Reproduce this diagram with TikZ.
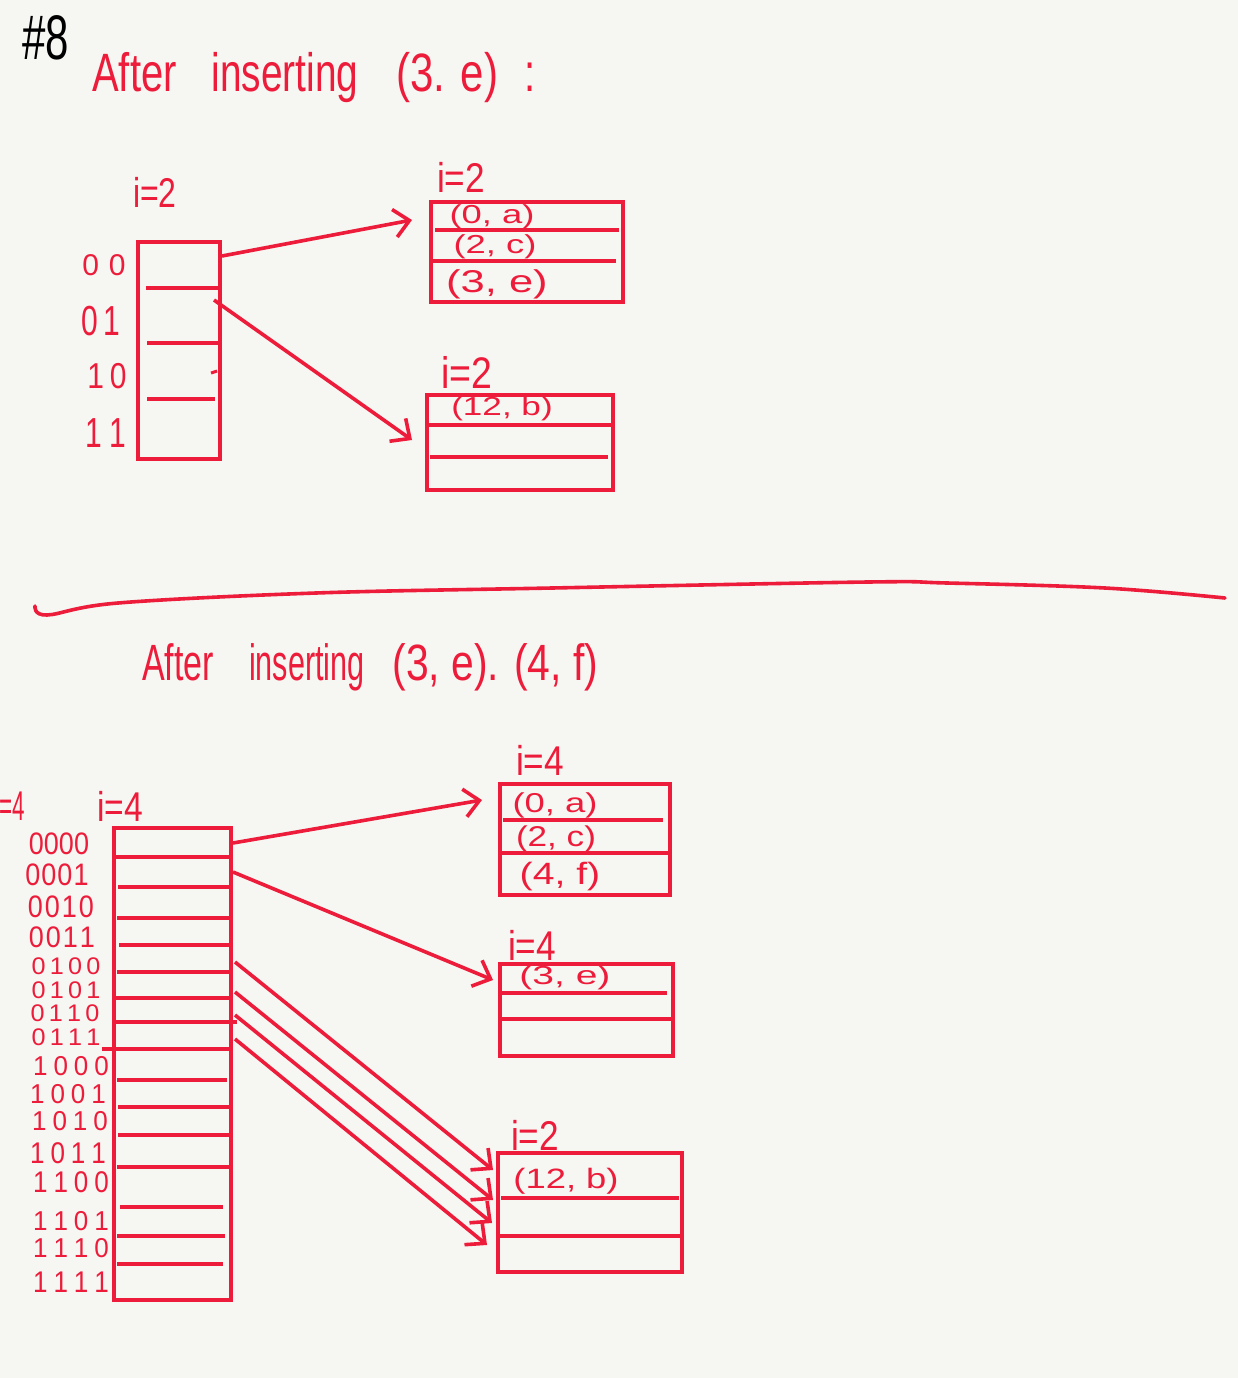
\documentclass[tikz,border=0pt]{standalone}
\usepackage{fontspec}
\usepackage{graphicx}
\setmainfont{Liberation Sans}
\usetikzlibrary{arrows.meta}
\definecolor{ink}{RGB}{236,28,58}
\definecolor{paper}{RGB}{246,246,242}
% size, x-scale, y-scale, text
\newcommand\hw[4]{{\fontsize{#1}{#1}\selectfont\scalebox{#2}[#3]{#4}}}
\newcommand\bitsx[5]{#1\hspace{#5}#2\hspace{#5}#3\hspace{#5}#4}
\tikzset{
  box/.style={draw=ink, line width=4pt, inner sep=0pt, outer sep=0pt},
  div/.style={draw=ink, line width=4pt},
  conn/.style={draw=ink, line width=3.6pt, -{Straight Barb[length=15pt,width=28pt,line width=3.6pt]}},
  lab/.style={text=ink, inner sep=0pt},
}
\begin{document}
\begin{tikzpicture}[x=1pt,y=-1pt]
\useasboundingbox[fill=paper] (0,0) rectangle (1238,1378);

% header
\node[inner sep=0pt, anchor=base west] (num) at (22,60) {\hw{42}{1}{1.5}{\#8}};
\node[lab, anchor=base west] (title1) at (92,92) {\fontsize{40}{40}\selectfont\scalebox{1}[1.35]{After}\hspace{35pt}\scalebox{0.97}[1.35]{inserting}\hspace{38pt}\scalebox{1.05}[1.35]{(3. e)}\hspace{26pt}\scalebox{1}[1.35]{:}};

% ---------- top diagram ----------
\node[lab] (ti) at (155,192) {\hw{32}{1}{1.3}{i=2}};
\node[box, minimum width=82pt, minimum height=217pt] (T1) at (179,350.5) {};
\draw[div] (146,288) -- (219,288);
\draw[div] (147,343) -- (219,343);
\draw[div] (147,399) -- (215,399);
\draw[ink, line width=3pt] (211,373) -- (217,371);
\node[lab] (l00) at (104,265) {\hw{30}{1}{1.0}{0\hspace{10pt}0}};
\node[lab] (l01) at (101,321) {\hw{30}{1}{1.4}{0\hspace{6pt}1}};
\node[lab] (l10) at (107,376) {\hw{30}{1}{1.2}{1\hspace{6pt}0}};
\node[lab] (l11) at (106,433) {\hw{30}{1}{1.4}{1\hspace{8pt}1}};

\node[lab] (bi1) at (461,177) {\hw{32}{1.1}{1.3}{i=2}};
\node[box, minimum width=192pt, minimum height=100pt] (B1) at (527,252) {};
\draw[div] (435,230) -- (619,230);
\draw[div] (431,261) -- (616,261);
\node[lab] (b1a) at (492,217) {\hw{26}{1.4}{1.0}{(0, a)}};
\node[lab] (b1b) at (495,247) {\hw{26}{1.4}{1.0}{(2, c)}};
\node[lab] (b1c) at (497,284) {\hw{30}{1.45}{1.05}{(3, e)}};

\node[lab] (bi2) at (467,372) {\hw{34}{1.1}{1.3}{i=2}};
\node[box, minimum width=186pt, minimum height=95pt] (B2) at (520,442.5) {};
\draw[div] (427,425) -- (613,425);
\draw[div] (430,457) -- (608,457);
\node[lab] (b2a) at (502,409) {\hw{26}{1.35}{1.0}{(12, b)}};

\coordinate (s1) at (222,256);
\coordinate (e1) at (412,220);
\coordinate (s2) at (214,300);
\coordinate (e2) at (412,440);
\draw[conn] (s1) -- (e1);
\draw[conn] (s2) -- (e2);

% divider
\draw[ink, line width=3.6pt, line cap=round] plot[smooth, tension=0.6] coordinates {(35,606) (47,615) (118,603) (316,593) (552,588) (868,582) (947,583) (1105,588) (1225,598)};

\node[lab, anchor=base west] (title2) at (142,680) {\fontsize{34}{34}\selectfont\scalebox{1}[1.5]{After}\hspace{35pt}\scalebox{0.9}[1.5]{inserting}\hspace{28pt}\scalebox{1.2}[1.5]{(3, e). (4, f)}};

% ---------- bottom diagram ----------
\node[lab, anchor=east] (tcut) at (25,806) {\hw{32}{0.7}{1.3}{=4}};
\node[lab] (t2i) at (120,806) {\hw{32}{1.05}{1.3}{i=4}};
\node[box, minimum width=117pt, minimum height=472pt] (T2) at (172.5,1064) {};
\draw[div] (115,857) -- (230,857);
\draw[div] (118,887) -- (229,887);
\draw[div] (117,918) -- (230,918);
\draw[div] (119,945) -- (229,945);
\draw[div] (117,972) -- (230,972);
\draw[div] (116,998) -- (230,998);
\draw[div] (116,1022) -- (237,1022);
\draw[div] (102,1049) -- (233,1049);
\draw[div] (117,1080) -- (227,1080);
\draw[div] (118,1107) -- (230,1107);
\draw[div] (118,1135) -- (229,1135);
\draw[div] (117,1167) -- (230,1167);
\draw[div] (120,1207) -- (223,1207);
\draw[div] (117,1236) -- (225,1236);
\draw[div] (117,1264) -- (223,1264);

\node[lab] (r0) at (59,844) {\hw{27}{1}{1.15}{\bitsx0000{0pt}}};
\node[lab] (r1) at (57,875) {\hw{27}{1}{1.15}{\bitsx0001{1pt}}};
\node[lab] (r2) at (61,907) {\hw{27}{1}{1.15}{\bitsx0010{2pt}}};
\node[lab] (r3) at (62,937) {\hw{27}{1}{1.1}{\bitsx0011{2pt}}};
\node[lab] (r4) at (66,966) {\hw{24}{1.05}{1.0}{\bitsx0100{4pt}}};
\node[lab] (r5) at (66,990) {\hw{24}{1.05}{1.0}{\bitsx0101{4pt}}};
\node[lab] (r6) at (65,1013) {\hw{24}{1.05}{1.0}{\bitsx0110{4pt}}};
\node[lab] (r7) at (66,1037) {\hw{24}{1.05}{1.0}{\bitsx0111{4pt}}};
\node[lab] (r8) at (71,1066) {\hw{26}{1}{1.05}{\bitsx1000{6pt}}};
\node[lab] (r9) at (68,1094) {\hw{26}{1}{1.05}{\bitsx1001{6pt}}};
\node[lab] (r10) at (70,1121) {\hw{26}{1}{1.05}{\bitsx1010{6pt}}};
\node[lab] (r11) at (68,1153) {\hw{26}{1}{1.15}{\bitsx1011{6pt}}};
\node[lab] (r12) at (71,1182) {\hw{26}{1}{1.15}{\bitsx1100{6pt}}};
\node[lab] (r13) at (71,1221) {\hw{26}{1}{1.05}{\bitsx1101{6pt}}};
\node[lab] (r14) at (71,1248) {\hw{26}{1}{1.05}{\bitsx1110{6pt}}};
\node[lab] (r15) at (71,1282) {\hw{26}{1}{1.15}{\bitsx1111{6pt}}};

% buckets
\node[lab] (ci1) at (540,760) {\hw{32}{1.1}{1.3}{i=4}};
\node[box, minimum width=170pt, minimum height=111pt] (C1) at (585,839.5) {};
\draw[div] (503,820) -- (663,820);
\draw[div] (500,853) -- (670,853);
\node[lab] (c1a) at (555,805) {\hw{26}{1.4}{1.05}{(0, a)}};
\node[lab] (c1b) at (556,839) {\hw{26}{1.35}{1.1}{(2, c)}};
\node[lab] (c1c) at (560,877) {\hw{28}{1.4}{1.1}{(4, f)}};

\node[lab] (ci2) at (532,945) {\hw{32}{1.1}{1.3}{i=4}};
\node[box, minimum width=173pt, minimum height=92pt] (C2) at (586.5,1010) {};
\draw[div] (502,993) -- (667,993);
\draw[div] (500,1019) -- (673,1019);
\node[lab] (c2a) at (565,978) {\hw{26}{1.5}{1.0}{(3, e)}};

\node[lab] (ci3) at (535,1135) {\hw{32}{1.1}{1.3}{i=2}};
\node[box, minimum width=184pt, minimum height=119pt] (C3) at (590,1212.5) {};
\draw[div] (501,1198) -- (679,1198);
\draw[div] (498,1236) -- (682,1236);
\node[lab] (c3a) at (566,1181) {\hw{28}{1.3}{1.0}{(12, b)}};

\coordinate (sa) at (233,843);
\coordinate (ea) at (482,800);
\coordinate (sb) at (233,872);
\coordinate (eb) at (493,980);
\coordinate (sc) at (235,962);
\coordinate (ec) at (493,1170);
\coordinate (sd) at (235,992);
\coordinate (ed) at (493,1200);
\coordinate (se) at (235,1015);
\coordinate (ee) at (492,1223);
\coordinate (sf) at (235,1039);
\coordinate (ef) at (487,1245);
\draw[conn] (sa) -- (ea);
\draw[conn] (sb) -- (eb);
\draw[conn] (sc) -- (ec);
\draw[conn] (sd) -- (ed);
\draw[conn] (se) -- (ee);
\draw[conn] (sf) -- (ef);
\end{tikzpicture}
\end{document}
